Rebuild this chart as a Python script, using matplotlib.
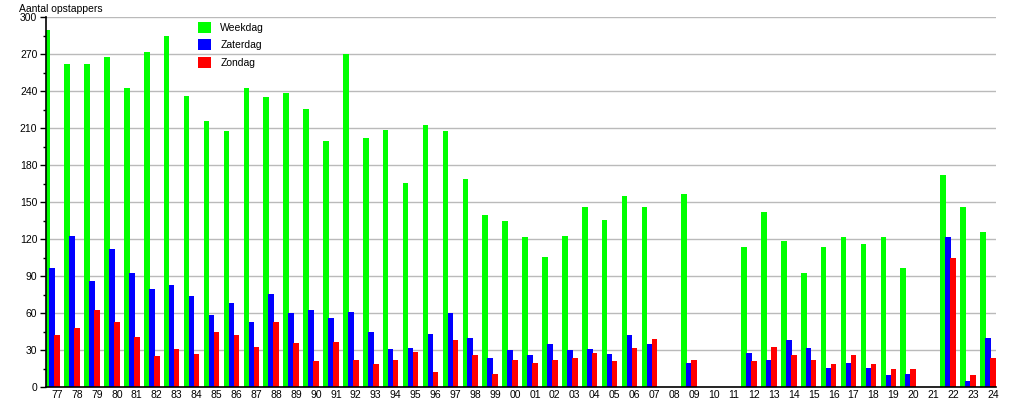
import numpy as np
import matplotlib
matplotlib.use("Agg")
import matplotlib.pyplot as plt

plt.rcParams['font.family'] = ['Liberation Sans', 'DejaVu Sans']

years = ['77', '78', '79', '80', '81', '82', '83', '84', '85', '86', '87', '88',
         '89', '90', '91', '92', '93', '94', '95', '96', '97', '98', '99', '00',
         '01', '02', '03', '04', '05', '06', '07', '08', '09', '10', '11', '12',
         '13', '14', '15', '16', '17', '18', '19', '20', '21', '22', '23', '24']

nan = np.nan
weekdag = [290, 262, 262, 268, 243, 272, 285, 236, 216, 208, 243, 235,
           239, 226, 200, 270, 202, 209, 166, 213, 208, 169, 140, 135,
           122, 106, 123, 146, 136, 155, 146, nan, 157, nan, nan, 114,
           142, 119, 93, 114, 122, 116, 122, 97, nan, 172, 146, 126]
zaterdag = [97, 123, 86, 112, 93, 80, 83, 74, 59, 68, 53, 76,
            60, 63, 56, 61, 45, 31, 32, 43, 60, 40, 24, 30,
            26, 35, 30, 31, 27, 42, 35, nan, 20, nan, nan, 28,
            22, 38, 32, 16, 20, 16, 10, 11, nan, 122, 5, 40]
zondag = [42, 48, 63, 53, 41, 25, 31, 27, 45, 42, 33, 53,
          36, 21, 37, 22, 19, 22, 29, 12, 38, 26, 11, 22,
          20, 22, 24, 28, 21, 32, 39, nan, 22, nan, nan, 21,
          33, 26, 22, 19, 26, 19, 15, 15, nan, 105, 10, 24]

x = np.arange(len(years))
w = 0.28

fig = plt.figure(figsize=(10.15, 4.0), dpi=100)
ax = fig.add_axes([0.045, 0.0318, 0.9363, 0.925])

ax.bar(x - 0.5, weekdag, w, color='#00ff00', label='Weekdag', zorder=2)
ax.bar(x - 0.25, zaterdag, w, color='#0000ff', label='Zaterdag', zorder=2)
ax.bar(x, zondag, w, color='#ff0000', label='Zondag', zorder=2)

ax.set_xlim(-0.58, 47.16)
ax.set_ylim(0, 300)
ax.set_yticks(np.arange(0, 301, 30))
ax.set_yticks(np.arange(15, 300, 30), minor=True)
ax.set_xticks(x)
ax.set_xticklabels(years)
ax.tick_params(axis='y', which='major', length=4, width=1, labelsize=7.5, pad=2)
ax.tick_params(axis='y', which='minor', length=2.5, width=1)
ax.tick_params(axis='x', length=0, labelsize=7.5, pad=2)
ax.yaxis.grid(True, which='major', color='#bababa', linewidth=1, zorder=0)
ax.set_axisbelow(True)

for s in ['top', 'right']:
    ax.spines[s].set_visible(False)
ax.spines['left'].set_linewidth(1.2)
ax.spines['bottom'].set_linewidth(1.2)
ax.spines['left'].set_zorder(3)

fig.text(19 / 1015, 1 - 9 / 400, 'Aantal opstappers', fontsize=7.5, va='center', ha='left')

leg = fig.legend(loc='upper left', bbox_to_anchor=(198 / 1015, 1 - 22 / 400),
                 frameon=False, fontsize=7.5, handlelength=1.25, handleheight=1.25,
                 handletextpad=0.9, labelspacing=0.6, borderpad=0, borderaxespad=0)

fig.savefig('out.png', dpi=100)
